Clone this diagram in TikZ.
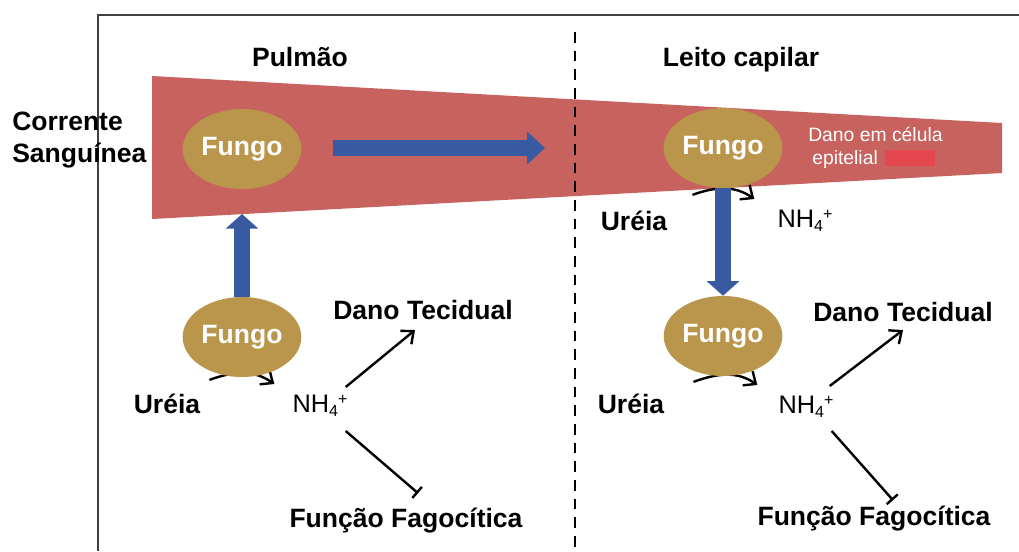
\documentclass[tikz,border=0pt]{standalone}
\usepackage{fontspec}
\setmainfont{Liberation Sans}
\usetikzlibrary{shapes.geometric,arrows.meta}
\definecolor{sangue}{RGB}{200,98,94}
\definecolor{fungocor}{RGB}{185,150,76}
\definecolor{azul}{RGB}{56,90,160}
\definecolor{realce}{RGB}{228,72,78}
\pgfdeclarelayer{band}
\pgfdeclarelayer{links}
\pgfsetlayers{band,links,main}
\tikzset{
  fungo/.style={ellipse, fill=fungocor, minimum width=89pt, minimum height=60pt, inner sep=0pt, text=white, font=\bfseries\fontsize{19.9}{23.5}\selectfont},
  rotulo/.style={inner sep=0pt, font=\bfseries\fontsize{19.9}{23.5}\selectfont},
  ion/.style={inner sep=0pt, font=\fontsize{19}{22}\selectfont},
  seta/.style={line width=1.8pt, -{Straight Barb[length=7.5pt,width=13pt]}},
  inibe/.style={line width=1.8pt, -{Bar[width=11pt]}},
  grossa/.style={azul, line width=11.5pt, -{Triangle[width=24pt,length=11pt]}},
}
\newcommand{\amonio}{NH\raisebox{-0.3ex}{\fontsize{12}{12}\selectfont 4}\raisebox{0.6ex}{\fontsize{12}{12}\selectfont +}}

\begin{document}
\begin{tikzpicture}[x=0.75pt, y=-0.75pt]
\useasboundingbox (0,0) rectangle (1019,551);
% blood stream band
\begin{pgfonlayer}{band}
\fill[sangue] (152,76) -- (1002,123) -- (1002,173) -- (152,219) -- cycle;
\fill[realce] (885,150) rectangle (935,166);
\end{pgfonlayer}
% frame and divider
\draw[line width=1.8pt, black!75] (98,551) -- (98,15) -- (1019,15);
\draw[line width=2.2pt, dash pattern=on 8pt off 6pt] (575,32) -- (575,551);

\node[rotulo] (pulmao) at (300,57) {Pulmão};
\node[rotulo] (leito) at (741,60) {Leito capilar};
\node[rotulo, anchor=west, align=left] (corrente) at (12,140) {Corrente\\Sanguínea};

\node[fungo] (fungoA) at (242,149) {Fungo};
\node[fungo] (fungoB) at (242,337) {Fungo};
\node[fungo] (fungoC) at (723,148) {Fungo};
\node[fungo] (fungoD) at (723,336) {Fungo};

\node[text=white, align=left, inner sep=0pt, font=\fontsize{14.5}{17}\selectfont, anchor=west] (epitelio) at (808,148) {Dano em célula\\\hspace{3pt}epitelial};

% lung side
\node[rotulo] (ureiaA) at (167,404) {Uréia};
\node[ion] (nhA) at (320,406) {\amonio};
\node[rotulo] (danoA) at (423,310) {Dano Tecidual};
\node[rotulo] (funcaoA) at (406,521) {Função Fagocítica};
% capillary side
\node[rotulo] (ureiaB) at (634,221) {Uréia};
\node[ion] (nhB) at (805,221) {\amonio};
\node[rotulo] (ureiaC) at (631,404) {Uréia};
\node[ion] (nhC) at (806,407) {\amonio};
\node[rotulo] (danoC) at (903,312) {Dano Tecidual};
\node[rotulo] (funcaoC) at (874,519) {Função Fagocítica};

\coordinate (setaIni) at (333,148);
\coordinate (setaFim) at (545,148);
\coordinate (setaTopo) at (242,214);

\begin{pgfonlayer}{links}
\draw[seta] ([shift={(9,-14)}]ureiaA.north east) to[out=20, in=145] ([shift={(-18,-11)}]nhA.north west);
\draw[seta] ([shift={(25,-16)}]ureiaB.north east) to[out=20, in=145] ([shift={(-23,-11)}]nhB.north west);
\draw[seta] ([shift={(29,-12)}]ureiaC.north east) to[out=20, in=145] ([shift={(-21,-11)}]nhC.north west);
\draw[seta] ([shift={(-2,-8)}]nhA.north east) -- ([shift={(-8,10)}]danoA.south);
\draw[inibe] ([shift={(-2,14)}]nhA.south east) -- ([shift={(12,-15)}]funcaoA.north);
\draw[seta] ([shift={(-4,-10)}]nhC.north east) -- ([shift={(0,8)}]danoC.south);
\draw[inibe] ([shift={(-2,13)}]nhC.south east) -- ([shift={(19,-6)}]funcaoC.north);
\draw[grossa, line width=12.5pt, -{Triangle[width=24pt,length=13.5pt]}] (setaIni) -- (setaFim);
\draw[grossa] (fungoB.north) -- (setaTopo);
\draw[grossa] (fungoC.south) -- (fungoD.north);
\end{pgfonlayer}
\end{tikzpicture}
\end{document}
